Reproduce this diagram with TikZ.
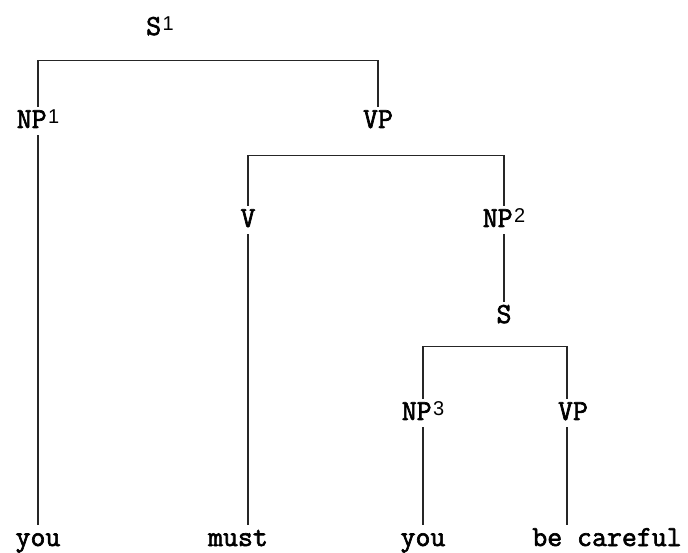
\documentclass[tikz,border=0pt]{standalone}
\usepackage{fontspec}
\newfontfamily\supfont{Liberation Sans}
\newfontfamily\labfont[FakeBold=2.2]{Latin Modern Mono}
\newcommand\supnum[1]{\kern1.5pt\raisebox{4.5pt}{\supfont\mdseries\fontsize{20}{23}\selectfont #1}}
\begin{document}
\begin{tikzpicture}[x=1pt,y=1pt,
  lbl/.style={font=\labfont\fontsize{29}{34}\selectfont, anchor=base,
    text height=14pt, text depth=0pt, inner ysep=7pt, inner xsep=0pt},
  edge/.style={line width=1.4pt, black!85}]
\useasboundingbox (0,0) rectangle (688,552);
% labels
\node[lbl] (s1)  at (160,517) {S\supnum{1}};
\node[lbl] (np1) at (38,424)  {NP\supnum{1}};
\node[lbl] (vp1) at (378,424) {VP};
\node[lbl] (v)   at (248,325) {V};
\node[lbl] (np2) at (504,325) {NP\supnum{2}};
\node[lbl] (s)   at (504,229) {S};
\node[lbl] (np3) at (423,132) {NP\supnum{3}};
\node[lbl] (vp2) at (573,132) {VP};
\node[lbl] (w1)  at (38,6)    {you};
\node[lbl] (w2)  at (238,6)   {must};
\node[lbl] (w3)  at (423,6)   {you};
\node[lbl] (w4)  at (607,6)   {be careful};
% brackets
\draw[edge] (np1.north) -- ++(0,46) -| (vp1.north);
\draw[edge] (v.north) -- ++(0,50) -| (np2.north);
\draw[edge] (np3.north) -- ++(0,52) -| ([xshift=-6pt]vp2.north);
% verticals
\draw[edge] (np1.south) -- (w1.north);
\draw[edge] (v.south) -- (v.south |- w2.north);
\draw[edge] (np2.south) -- (s.north);
\draw[edge] (np3.south) -- (w3.north);
\draw[edge] ([xshift=-6pt]vp2.south) -- ([xshift=-6pt]vp2.south |- w4.north);
\end{tikzpicture}
\end{document}
